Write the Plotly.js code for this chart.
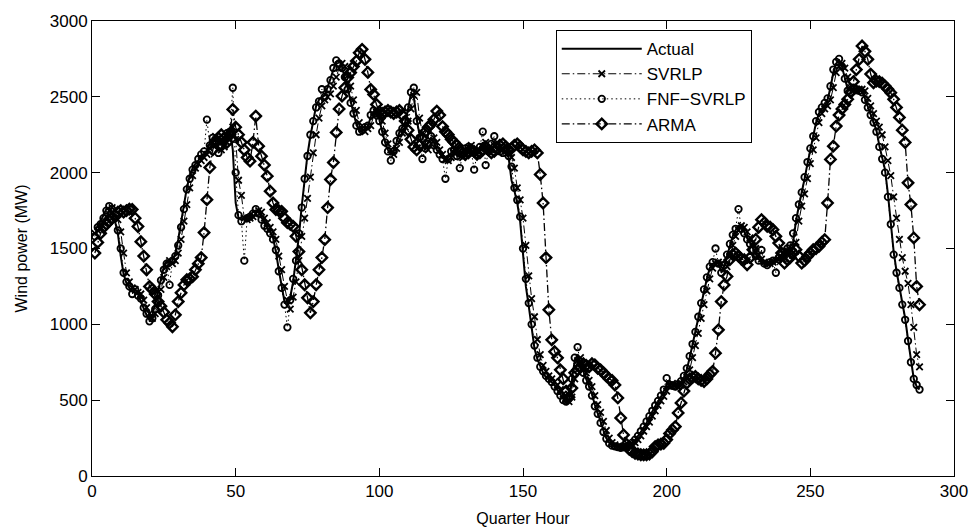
<!DOCTYPE html>
<html>
<head>
<meta charset="utf-8">
<script src="https://cdn.plot.ly/plotly-3.0.1.min.js"></script>
<style>
html,body{margin:0;padding:0;background:#fff;}
#chart{width:974px;height:531px;}
</style>
</head>
<body>
<div id="chart"></div>
<script>
const seriesNames = ["Actual", "SVRLP", "FNF\u2212SVRLP", "ARMA"];
const xTicks = [0, 50, 100, 150, 200, 250, 300];
const yTicks = [0, 500, 1000, 1500, 2000, 2500, 3000];

const actual = [
1620,1650,1680,1720,1760,1770,1740,1680,1600,1450,
1330,1270,1240,1220,1210,1200,1150,1100,1060,1030,
1060,1140,1220,1300,1380,1420,1400,1420,1470,1560,
1680,1780,1900,1980,2030,2060,2080,2100,2120,2150,
2200,2230,2200,2150,2160,2200,2250,2290,2150,1800,
1700,1690,1700,1710,1720,1740,1750,1740,1700,1670,
1640,1610,1570,1480,1360,1250,1150,1120,1180,1280,
1430,1580,1780,1970,2120,2240,2350,2440,2480,2500,
2510,2560,2620,2680,2730,2740,2700,2620,2560,2470,
2400,2320,2280,2270,2290,2300,2370,2400,2400,2350,
2270,2200,2150,2120,2150,2200,2270,2300,2330,2420,
2520,2500,2350,2250,2180,2150,2200,2230,2200,2150,
2130,2100,2080,2100,2130,2150,2120,2100,2130,2150,
2180,2150,2120,2130,2160,2200,2170,2150,2180,2200,
2170,2150,2140,2130,2100,1950,1880,1800,1680,1450,
1250,1120,970,840,770,720,680,650,640,620,
600,570,540,510,480,500,620,760,800,730,
690,640,600,540,470,420,360,300,250,220,
200,195,190,185,185,190,200,215,235,260,
290,320,350,390,430,460,490,520,560,600,
610,600,590,600,620,650,700,780,860,940,
1040,1130,1220,1300,1370,1400,1410,1400,1350,1380,
1450,1520,1580,1620,1650,1640,1610,1570,1540,1500,
1460,1430,1410,1400,1400,1410,1420,1430,1440,1460,
1480,1490,1510,1540,1680,1780,1860,1960,2060,2150,
2230,2330,2390,2420,2440,2480,2560,2660,2720,2740,
2700,2630,2550,2540,2550,2550,2550,2540,2490,2440,
2390,2340,2280,2180,2100,2020,1860,1680,1480,1350,
1250,1140,1040,900,760,640,590,570
];

const svrlp = [
1600,1620,1640,1670,1710,1750,1770,1750,1690,1610,
1470,1340,1280,1240,1230,1210,1200,1160,1110,1070,
1040,1070,1140,1230,1310,1380,1420,1400,1420,1470,
1560,1680,1790,1900,1980,2030,2060,2080,2100,2120,
2160,2200,2240,2200,2150,2170,2200,2260,2300,2220,
1950,1850,1700,1690,1700,1710,1730,1750,1740,1700,
1670,1640,1610,1560,1450,1360,1250,1160,1100,1180,
1280,1420,1580,1700,1830,1970,2130,2250,2360,2440,
2480,2500,2520,2570,2630,2690,2720,2700,2640,2570,
2480,2410,2330,2290,2270,2290,2310,2370,2400,2390,
2340,2260,2190,2150,2120,2160,2200,2260,2300,2340,
2420,2510,2530,2360,2260,2180,2150,2190,2230,2200,
2150,2120,2090,2080,2100,2130,2150,2120,2100,2130,
2150,2180,2150,2120,2140,2170,2200,2160,2150,2180,
2200,2170,2150,2140,2130,2100,2030,1900,1820,1700,
1520,1320,1170,1050,900,800,730,690,660,640,
620,600,570,540,510,490,520,640,760,780,
720,680,630,590,530,470,420,360,300,250,
220,205,195,190,188,188,195,205,220,240,
265,295,325,355,395,430,465,495,525,560,
600,610,600,590,600,620,650,700,780,860,
940,1040,1130,1220,1300,1370,1400,1410,1400,1360,
1380,1450,1520,1580,1620,1650,1640,1610,1570,1540,
1500,1460,1430,1410,1400,1400,1410,1420,1430,1440,
1460,1480,1490,1510,1540,1680,1780,1860,1960,2060,
2150,2230,2330,2390,2420,2440,2480,2560,2660,2700,
2720,2690,2630,2560,2540,2550,2550,2550,2540,2490,
2440,2390,2340,2300,2250,2170,2080,1980,1840,1700,
1560,1440,1350,1270,1130,980,800,720
];

const fnfSvrlp = [
1580,1640,1660,1700,1750,1780,1760,1700,1620,1500,
1340,1280,1250,1200,1230,1190,1170,1110,1070,1020,
1040,1100,1190,1290,1360,1400,1260,1420,1450,1520,
1640,1760,1890,1960,2020,2050,2090,2120,2140,2350,
2180,2230,2210,2130,2170,2210,2260,2270,2560,2000,
1720,1680,1420,1700,1710,1730,1760,1730,1690,1650,
1630,1600,1560,1490,1350,1240,1130,980,1160,1300,
1420,1600,1770,1960,2110,2250,2340,2430,2470,2550,
2500,2550,2610,2690,2740,2720,2690,2630,2550,2460,
2390,2310,2270,2280,2300,2310,2380,2410,2390,2340,
2270,2200,2140,2080,2140,2210,2260,2290,2340,2430,
2530,2560,2340,2230,2090,2160,2190,2240,2180,2150,
2120,2090,1960,2090,2140,2150,2110,2030,2120,2160,
2170,2140,2020,2120,2170,2270,2050,2140,2190,2240,
2180,2140,2130,2150,2110,2040,1900,1820,1710,1500,
1300,1140,1000,860,780,720,690,660,640,620,
590,560,530,500,490,510,640,780,850,740,
680,630,590,530,460,410,350,290,245,215,
200,195,190,185,190,195,205,220,240,265,
295,325,360,395,430,465,495,530,570,645,
600,595,590,605,625,660,710,790,870,950,
1050,1140,1230,1310,1380,1410,1500,1400,1340,1390,
1460,1530,1590,1630,1760,1630,1600,1560,1530,1490,
1450,1420,1490,1400,1390,1410,1420,1340,1440,1460,
1480,1500,1520,1600,1700,1790,1870,1970,2070,2160,
2240,2340,2400,2430,2460,2490,2570,2680,2730,2750,
2700,2620,2540,2530,2560,2550,2540,2530,2480,2430,
2380,2330,2270,2170,2090,2000,1840,1660,1460,1340,
1240,1130,1030,890,750,640,600,570
];

const arma = [
1470,1540,1600,1640,1660,1680,1700,1720,1740,1750,
1740,1750,1760,1757,1700,1645,1545,1450,1360,1250,
1230,1200,1150,1120,1080,1030,1010,984,1063,1150,
1208,1260,1294,1300,1314,1360,1400,1440,1605,1822,
2034,2150,2200,2230,2250,2230,2200,2250,2417,2300,
2250,2200,2150,2100,2076,2200,2373,2175,2109,2050,
1977,1878,1800,1757,1750,1745,1700,1670,1660,1646,
1580,1480,1360,1261,1175,1076,1150,1261,1360,1440,
1558,1770,1955,2067,2265,2420,2505,2560,2628,2660,
2700,2736,2790,2813,2747,2661,2549,2516,2450,2400,
2390,2400,2410,2400,2390,2400,2410,2380,2340,2280,
2220,2170,2150,2180,2230,2270,2300,2320,2350,2406,
2380,2304,2270,2250,2220,2200,2180,2150,2130,2120,
2130,2150,2140,2120,2130,2150,2170,2150,2130,2140,
2160,2180,2190,2170,2150,2160,2180,2190,2170,2150,
2140,2130,2140,2150,2130,1988,1800,1440,1096,898,
820,779,700,640,560,520,580,680,700,720,
740,730,720,740,733,710,700,680,660,640,
630,600,515,383,271,210,175,161,150,145,
140,139,140,145,160,194,205,210,216,240,
280,304,326,416,482,560,612,640,650,656,
640,630,623,640,670,690,810,964,1150,1260,
1316,1426,1460,1470,1450,1430,1426,1393,1440,1492,
1560,1640,1690,1670,1646,1640,1624,1580,1536,1470,
1404,1426,1440,1470,1492,1450,1404,1420,1448,1470,
1492,1500,1514,1540,1558,1800,2087,2175,2307,2380,
2420,2450,2484,2530,2600,2680,2747,2835,2800,2747,
2650,2593,2604,2600,2590,2571,2550,2527,2484,2430,
2364,2280,2199,1933,1790,1570,1250,1129
];

const quarterHours = actual.map((_, i) => i + 1);

const FONT = "Liberation Sans, Arial, Helvetica, sans-serif";

const traces = [
  {
    x: quarterHours, y: actual, name: seriesNames[0],
    type: "scatter", mode: "lines",
    line: {color: "#000", width: 2, dash: "solid"}
  },
  {
    x: quarterHours, y: svrlp, name: seriesNames[1],
    type: "scatter", mode: "lines+markers",
    line: {color: "#000", width: 1, dash: "8px,3px,1.5px,3px"},
    marker: {symbol: "x-thin-open", size: 6.5, color: "#000", line: {color: "#000", width: 1.8}}
  },
  {
    x: quarterHours, y: fnfSvrlp, name: seriesNames[2],
    type: "scatter", mode: "lines+markers",
    line: {color: "#000", width: 1, dash: "1.5px,3px"},
    marker: {symbol: "circle-open", size: 6.5, color: "#000", line: {color: "#000", width: 1.8}}
  },
  {
    x: quarterHours, y: arma, name: seriesNames[3],
    type: "scatter", mode: "lines+markers",
    line: {color: "#000", width: 1.3, dash: "8px,3px,1.5px,3px"},
    marker: {symbol: "diamond-open", size: 8, color: "#000", line: {color: "#000", width: 2.4}}
  }
];

const axisCommon = {
  showgrid: false, zeroline: false,
  showline: true, linecolor: "#000", linewidth: 1, mirror: "ticks",
  ticks: "inside", ticklen: 8, tickwidth: 1, tickcolor: "#000",
  tickfont: {family: FONT, size: 17, color: "#000"}
};

const layout = {
  width: 974, height: 531,
  margin: {l: 92, r: 20, t: 21, b: 55, pad: 0},
  paper_bgcolor: "#fff", plot_bgcolor: "#fff",
  showlegend: true,
  xaxis: Object.assign({}, axisCommon, {
    range: [0, 300], tickvals: xTicks, ticktext: xTicks.map(String),
    title: {text: "Quarter Hour", font: {family: FONT, size: 16, color: "#000"}, standoff: 12}
  }),
  yaxis: Object.assign({}, axisCommon, {
    range: [0, 3000], tickvals: yTicks, ticktext: yTicks.map(String),
    title: {text: "Wind power (MW)", font: {family: FONT, size: 16, color: "#000"}, standoff: 18}
  }),
  legend: {
    x: 0.538, y: 0.98, xanchor: "left", yanchor: "top",
    bgcolor: "#fff", bordercolor: "#000", borderwidth: 1,
    font: {family: FONT, size: 17, color: "#000"},
    itemwidth: 80, tracegroupgap: 0
  }
};

Plotly.newPlot("chart", traces, layout, {displayModeBar: false, staticPlot: true});
</script>
</body>
</html>
